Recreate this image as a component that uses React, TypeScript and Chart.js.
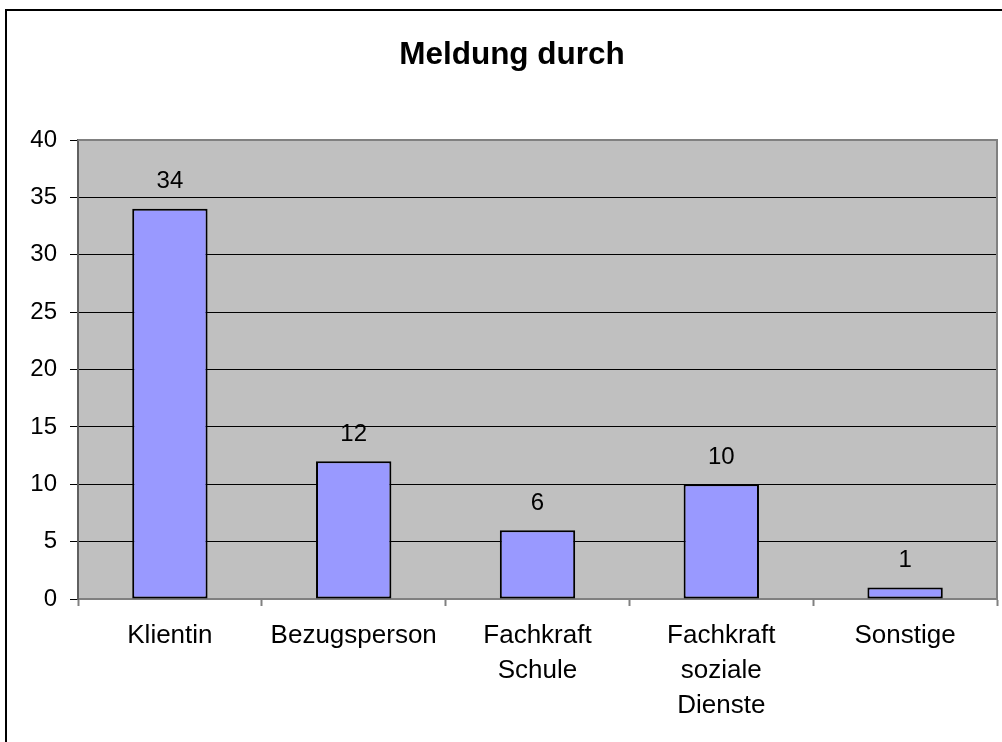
import React, { useEffect, useRef } from "react";
import { Chart, registerables } from "chart.js";

Chart.register(...registerables);

const title = "Meldung durch";
const categories: (string | string[])[] = [
  "Klientin",
  "Bezugsperson",
  ["Fachkraft", "Schule"],
  ["Fachkraft", "soziale", "Dienste"],
  "Sonstige",
];
const values = [34, 12, 6, 10, 1];
const yMin = 0;
const yMax = 40;
const yStep = 5;

const FONT = "'Liberation Sans', Arial, Helvetica, sans-serif";

const decorPlugin = {
  id: "decor",
  beforeDraw(chart: any) {
    const { ctx, chartArea } = chart;
    ctx.save();
    ctx.fillStyle = "#ffffff";
    ctx.fillRect(0, 0, chart.width, chart.height);
    ctx.fillStyle = "#C0C0C0";
    ctx.fillRect(chartArea.left, chartArea.top, chartArea.right - chartArea.left, chartArea.bottom - chartArea.top);
    // outer frame
    ctx.strokeStyle = "#000000";
    ctx.lineWidth = 2;
    ctx.strokeRect(6, 10, chart.width + 50, chart.height + 50);
    // title
    ctx.fillStyle = "#000000";
    ctx.font = `bold 31.5px ${FONT}`;
    ctx.textAlign = "center";
    ctx.textBaseline = "middle";
    ctx.fillText(title, 512, 55);
    ctx.restore();
  },
  beforeDatasetsDraw(chart: any) {
    const { ctx, chartArea } = chart;
    ctx.save();
    ctx.strokeStyle = "#808080";
    ctx.lineWidth = 2;
    ctx.beginPath();
    ctx.moveTo(chartArea.left, chartArea.top);
    ctx.lineTo(chartArea.right, chartArea.top);
    ctx.lineTo(chartArea.right, chartArea.bottom);
    ctx.stroke();
    ctx.restore();
  },
  afterDatasetsDraw(chart: any) {
    const { ctx } = chart;
    const meta = chart.getDatasetMeta(0);
    ctx.save();
    ctx.fillStyle = "#000000";
    ctx.font = `24px ${FONT}`;
    ctx.textAlign = "center";
    ctx.textBaseline = "middle";
    meta.data.forEach((bar: any, i: number) => {
      ctx.fillText(String(values[i]), bar.x, bar.y - 27);
    });
    ctx.restore();
  },
};

export default function App() {
  const ref = useRef<HTMLCanvasElement | null>(null);
  useEffect(() => {
    if (!ref.current) return;
    const chart = new Chart(ref.current, {
      type: "bar",
      data: {
        labels: categories,
        datasets: [
          {
            data: values,
            backgroundColor: "#9999FF",
            borderColor: "#000000",
            borderWidth: 2,
            borderSkipped: false,
            barPercentage: 0.41,
            categoryPercentage: 1,
          },
        ],
      },
      options: {
        responsive: false,
        animation: false,
        layout: { padding: { top: 140, right: 5, left: 0, bottom: 0 } },
        plugins: {
          legend: { display: false },
          title: { display: false },
          tooltip: { enabled: false },
        },
        scales: {
          x: {
            afterFit: (s: any) => {
              s.height = 143;
            },
            grid: {
              offset: true,
              drawOnChartArea: false,
              drawTicks: true,
              tickLength: 7,
              tickColor: "#808080",
              tickWidth: 2,
            },
            border: { color: "#808080", width: 2 },
            ticks: {
              color: "#000000",
              font: { family: FONT, size: 26, lineHeight: 1.35 },
              padding: 12,
              maxRotation: 0,
              autoSkip: false,
            },
          },
          y: {
            min: yMin,
            max: yMax,
            afterFit: (s: any) => {
              s.width = 78;
            },
            grid: {
              color: (c: any) =>
                c.tick && (c.tick.value === yMin || c.tick.value === yMax) ? "rgba(0,0,0,0)" : "#000000",
              lineWidth: 1,
              drawTicks: true,
              tickLength: 8,
              tickColor: "#000000",
            },
            border: { color: "#606060", width: 2 },
            ticks: {
              stepSize: yStep,
              color: "#000000",
              font: { family: FONT, size: 24 },
              padding: 13,
            },
          },
        },
      },
      plugins: [decorPlugin],
    });
    return () => chart.destroy();
  }, []);
  return (
    <div style={{ position: "absolute", left: 0, top: 0, width: 1002, height: 742 }}>
      <canvas ref={ref} width={1002} height={742} style={{ display: "block" }} />
    </div>
  );
}
